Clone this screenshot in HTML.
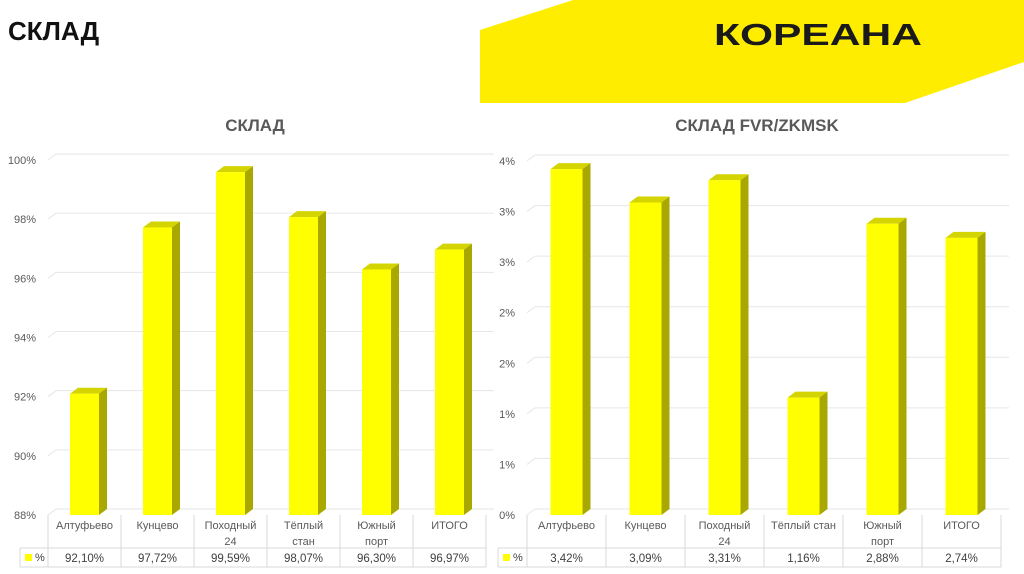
<!DOCTYPE html>
<html><head><meta charset="utf-8"><style>
html,body{margin:0;padding:0;background:#fff;}
body{width:1024px;height:574px;overflow:hidden;position:relative;font-family:"Liberation Sans","Noto Sans CJK SC",sans-serif;}
svg{position:absolute;left:0;top:0;}
</style></head><body>
<svg id="s" width="1024" height="574">
  <polygon points="480,30 573,0 1024,0 1024,62 905,103 480,103" fill="#ffed00"/>
  <text x="8" y="40" font-size="26" font-weight="bold" fill="#111">СКЛАД</text>
  <text x="714" y="45" font-size="31" font-weight="900" fill="#1a1a1a" textLength="208" lengthAdjust="spacingAndGlyphs">КОРЕАНА</text>
  <text x="255" y="131" font-size="17" font-weight="bold" fill="#595959" text-anchor="middle">СКЛАД</text>
  <text x="757" y="131" font-size="17" font-weight="bold" fill="#595959" text-anchor="middle">СКЛАД FVR/ZKMSK</text>
  <g id="g1"></g>
  <g id="g2"></g>
</svg>
<script>
const cats1 = ["Алтуфьево","Кунцево","Походный|24","Тёплый|стан","Южный|порт","ИТОГО"];
const vals1 = [92.10, 97.72, 99.59, 98.07, 96.30, 96.97];
const labels1 = ["92,10%","97,72%","99,59%","98,07%","96,30%","96,97%"];
const ticks1 = [88, 90, 92, 94, 96, 98, 100];
const tickLabels1 = ["88%","90%","92%","94%","96%","98%","100%"];

const cats2 = ["Алтуфьево","Кунцево","Походный|24","Тёплый стан","Южный|порт","ИТОГО"];
const vals2 = [3.42, 3.09, 3.31, 1.16, 2.88, 2.74];
const labels2 = ["3,42%","3,09%","3,31%","1,16%","2,88%","2,74%"];
const ticks2 = [0, 0.5, 1, 1.5, 2, 2.5, 3, 3.5];
const tickLabels2 = ["0%","1%","1%","2%","2%","3%","3%","4%"];

const NS="http://www.w3.org/2000/svg";
function mk(p,tag,attrs){const e=document.createElementNS(NS,tag);for(const k in attrs)e.setAttribute(k,attrs[k]);p.appendChild(e);return e;}

function drawChart(g, cfg){
  const {cats,vals,labels,ticks,tickLabels,min,max,x0,x1,legX,top,bottom,barW,name}=cfg;
  const y=v=>bottom-(v-min)/(max-min)*(bottom-top);
  const n=cats.length, cw=(x1-x0)/n, dx=8, dy=6;
  ticks.forEach((t,i)=>{
    const yy=y(t);
    const l=mk(g,'polyline',{points:`${x0},${yy} ${x0+dx},${yy-dy} ${x1+dx},${yy-dy}`,fill:'none',stroke:'#e6e6e6','stroke-width':1});
    
    
    const tx=mk(g,'text',{x:x0-12,y:yy+4,'font-size':11,fill:'#595959','text-anchor':'end'});
    tx.textContent=tickLabels[i];
    
    
  });
  vals.forEach((v,i)=>{
    const bx=x0+cw*i+(cw-barW)/2, by=y(v);
    const top_=mk(g,'polygon',{points:`${bx},${by} ${bx+dx},${by-dy} ${bx+barW+dx},${by-dy} ${bx+barW},${by}`,fill:'#d4d400'});
    
    
    const side=mk(g,'polygon',{points:`${bx+barW},${by} ${bx+barW+dx},${by-dy} ${bx+barW+dx},${bottom-dy} ${bx+barW},${bottom}`,fill:'#a8a800'});
    
    
    const r=mk(g,'rect',{x:bx,y:by,width:barW,height:bottom-by,fill:'#ffff00'});
    
    
  });
  // table
  const r1=bottom+33, r2=bottom+52;
  const ln=(a,b,c,d,nm)=>{const l=mk(g,'line',{x1:a,y1:b,x2:c,y2:d,stroke:'#d9d9d9','stroke-width':1});};
  ln(legX,r1,x1,r1,name+'-table-line');
  ln(legX,r2,x1,r2,name+'-table-line');
  ln(legX,r1,legX,r2,name+'-table-line');
  for(let i=0;i<=n;i++) ln(x0+cw*i,bottom,x0+cw*i,r2,name+'-table-line');
  const lg=mk(g,'rect',{x:legX+5,y:r1+6,width:7,height:7,fill:'#ffff00'});
  
  
  const lt=mk(g,'text',{x:legX+15,y:r1+13,'font-size':11,fill:'#404040'});
  lt.textContent='%';
  
  
  cats.forEach((c,i)=>{
    const cx=x0+cw*i+cw/2;
    c.split('|').forEach((part,j)=>{
      const t=mk(g,'text',{x:cx,y:bottom+14+j*16,'font-size':11,fill:'#595959','text-anchor':'middle'});
      t.textContent=part;
      
      
    });
    const t=mk(g,'text',{x:cx,y:r1+14,'font-size':11.5,fill:'#404040','text-anchor':'middle'});
    t.textContent=labels[i];
    
    
  });
}
drawChart(document.getElementById('g1'),{cats:cats1,vals:vals1,labels:labels1,ticks:ticks1,tickLabels:tickLabels1,min:88,max:100,x0:48,x1:486,legX:20,top:160,bottom:515,barW:29,name:'left'});
drawChart(document.getElementById('g2'),{cats:cats2,vals:vals2,labels:labels2,ticks:ticks2,tickLabels:tickLabels2,min:0,max:3.5,x0:527,x1:1001,legX:498,top:161,bottom:515,barW:32,name:'right'});
</script>
</body></html>
